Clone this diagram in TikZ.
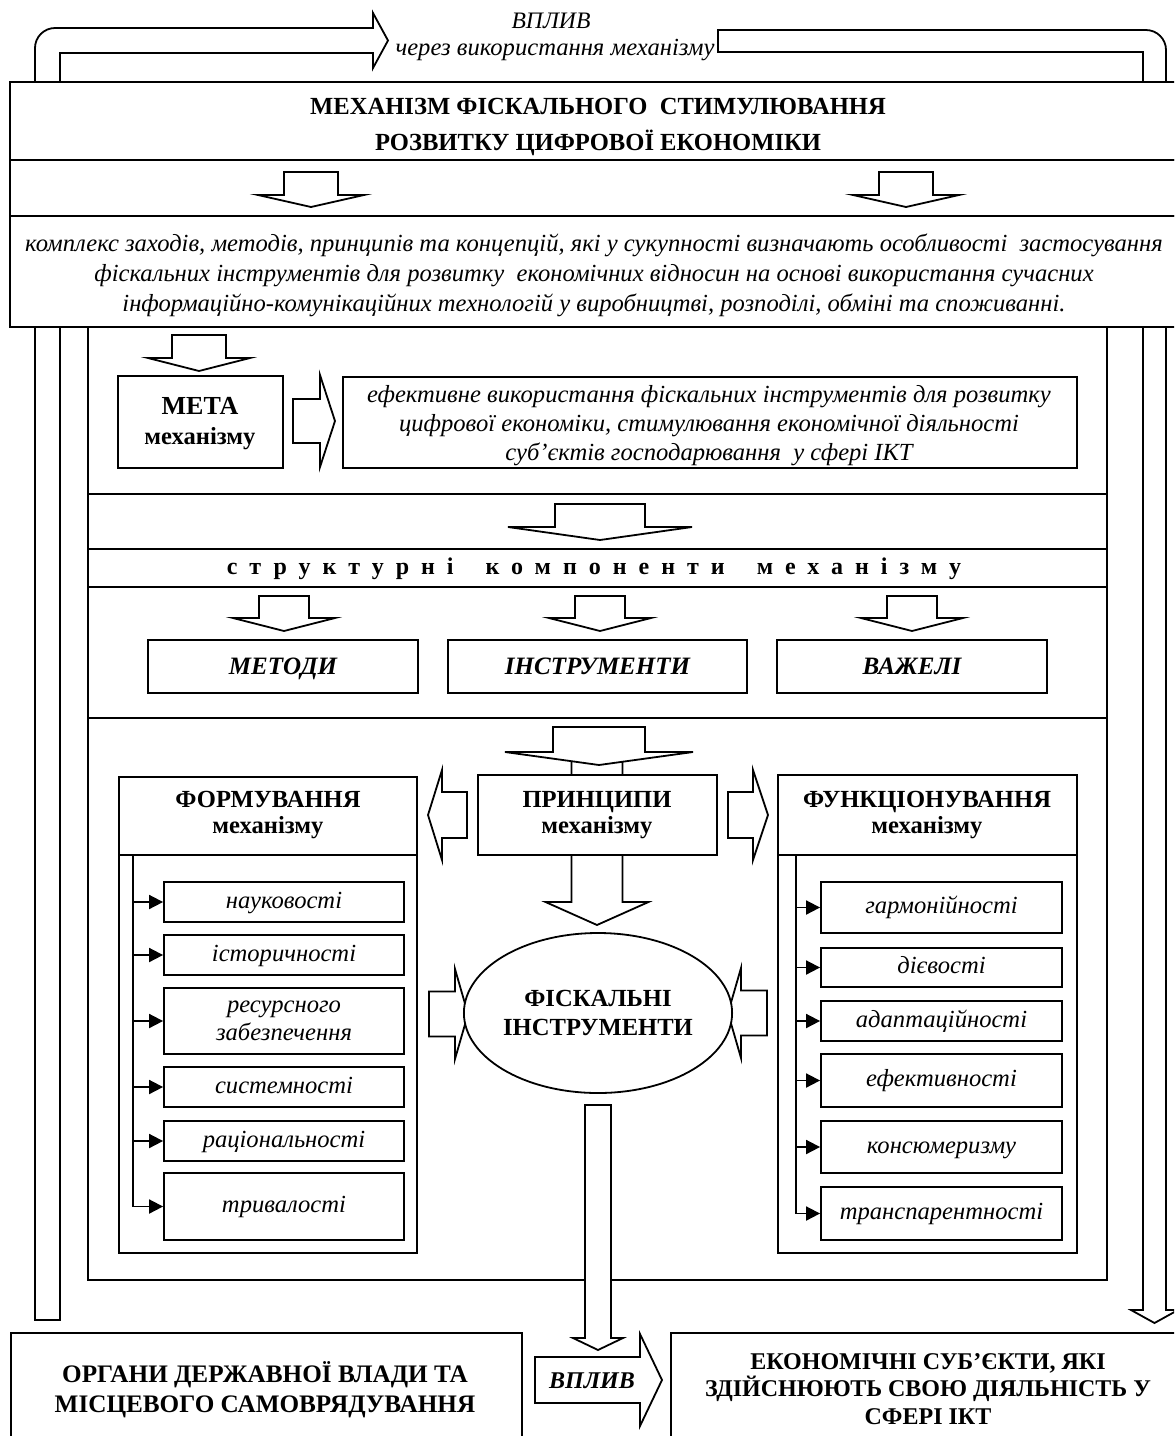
\documentclass[tikz,border=0pt]{standalone}
\usepackage{fontspec}
\setmainfont{Liberation Serif}
\usetikzlibrary{arrows.meta,shapes.geometric}
\newcommand\fs[2]{\fontsize{#1}{#2}\selectfont}
\tikzset{
  box/.style={draw, fill=white, line width=0.9pt, inner sep=0pt, align=center},
  txt/.style={align=center, inner sep=0pt},
  blockarrow/.style={draw, fill=white, line width=0.9pt, line join=miter},
  ptr/.style={-{Triangle[length=7pt,width=7pt]}, line width=0.9pt},
  item/.style={font=\itshape\fs{12.3}{14.5}, text height=8.5pt, text depth=2.5pt},
  capbox/.style={font=\bfseries\itshape\fs{12.5}{15}, text height=8.5pt, text depth=0.5pt},
}
% down block arrow: cx, shaft half, head half, top, base, tip
\newcommand\darr[6]{\draw[blockarrow] ({#1-#2},#4) -- ({#1+#2},#4) -- ({#1+#2},#5) -- ({#1+#3},#5) -- (#1,#6) -- ({#1-#3},#5) -- ({#1-#2},#5) -- cycle;}
% horizontal block arrow: cy, shaft half, head half, tail x, base x, tip x
\newcommand\harr[6]{\draw[blockarrow] (#4,{#1-#2}) -- (#5,{#1-#2}) -- (#5,{#1-#3}) -- (#6,#1) -- (#5,{#1+#3}) -- (#5,{#1+#2}) -- (#4,{#1+#2}) -- cycle;}
% named rectangle: [style], name, x1, y1, x2, y2, text
\newcommand\rbox[7][]{\node[box, minimum width={(#5-#3)*0.5pt}, minimum height={(#6-#4)*0.5pt}, #1] (#2) at ({(#3+#5)/2},{(#4+#6)/2}) {#7};}
\begin{document}
\begin{tikzpicture}[x=0.5pt,y=-0.5pt, line width=0.9pt]
\useasboundingbox (0,0) rectangle (1174,1436);
\clip (0,0) rectangle (1174,1436);
\fill[white] (0,0) rectangle (1174,1436);

% ---- feedback block arrows ----
\draw[blockarrow] (35,1320) -- (35,48) .. controls (35,37) and (44,28) .. (55,28) -- (373,28) -- (373,13) -- (388,40.5) -- (373,68) -- (373,53) -- (60,53) -- (60,1320) -- cycle;
\draw[blockarrow] (718,30) -- (1146,30) .. controls (1157,30) and (1166,39) .. (1166,50) -- (1166,1310) -- (1178,1310) -- (1154.5,1323) -- (1131,1310) -- (1143,1310) -- (1143,52) -- (718,52) -- cycle;
\node[txt, font=\itshape\fs{11.8}{13}] (vplyvtop) at (551,21) {ВПЛИВ};
\node[txt, font=\itshape\fs{12.3}{14}] (cherez) at (555,50) {через використання механізму};

% ---- title and definition ----
\rbox{title}{10}{82}{1190}{160}{}
\node[txt, font=\bfseries\fs{12.3}{18}] (titletxt) at (598,127) {МЕХАНІЗМ ФІСКАЛЬНОГО~ СТИМУЛЮВАННЯ\\РОЗВИТКУ ЦИФРОВОЇ ЕКОНОМІКИ};
\rbox{strip}{10}{160}{1190}{216}{}
\darr{311}{27}{53}{172}{195}{207}
\darr{906}{27}{53}{172}{195}{207}
\rbox{def}{10}{216}{1190}{327}{}
\node[txt, font=\itshape\fs{12.3}{15}] (deftxt) at (594,275) {комплекс заходів, методів, принципів та концепцій, які у сукупності визначають особливості~ застосування\\фіскальних інструментів для розвитку~ економічних відносин на основі використання сучасних\\інформаційно-комунікаційних технологій у виробництві, розподілі, обміні та споживанні.};

% ---- inner frame ----
\node[draw, line width=0.9pt, minimum width=509.5pt, minimum height=476.5pt, inner sep=0pt] (frame) at (597.5,803.5) {};
\draw (88,494) -- (1107,494);
\draw (88,549) -- (1107,549);
\draw (88,587) -- (1107,587);
\draw (88,718) -- (1107,718);

% ---- goal ----
\darr{199}{27}{51}{335}{358}{371}
\rbox{meta}{118}{376}{283}{468}{}
\node[txt, font=\bfseries\fs{12.3}{15}] (metatxt) at (200,424) {{\fs{13}{15}МЕТА}\\механізму};
\harr{421}{22}{46}{293}{320}{335}
\rbox{goal}{343}{377}{1077}{468}{}
\node[txt, font=\itshape\fs{12.3}{14.5}] (goaltxt) at (709,426) {ефективне використання фіскальних інструментів для розвитку\\цифрової економіки, стимулювання економічної діяльності\\суб’єктів господарювання~ у сфері ІКТ};

% ---- structural components ----
\darr{600}{45}{92}{504}{527}{540}
\node[txt, font=\bfseries\fs{12}{14}\addfontfeature{LetterSpace=50}] (struct) at (594,569) {структурні\hspace{16pt}компоненти\hspace{16pt}механізму};
\darr{284}{25}{51}{596}{618}{631}
\darr{600}{25}{51}{596}{618}{631}
\darr{912}{25}{51}{596}{618}{631}
\rbox[capbox]{metody}{148}{640}{418}{693}{МЕТОДИ}
\rbox[capbox]{instr}{448}{640}{747}{693}{ІНСТРУМЕНТИ}
\rbox[capbox]{vazheli}{777}{640}{1047}{693}{ВАЖЕЛІ}

% ---- principles ----
\darr{597}{25.5}{51.5}{740}{902}{925}
\darr{599}{46}{94}{727}{752}{765}
\rbox{princ}{478}{775}{717}{855}{}
\node[txt, font=\bfseries\fs{12.3}{12.8}] (princtxt) at (597,815) {ПРИНЦИПИ\\механізму};
\harr{815}{23}{45}{467}{442}{428}
\harr{815}{23}{45}{728}{753}{768}

% ---- formation ----
\rbox{form}{119}{777}{417}{1253}{}
\draw (119,855) -- (417,855);
\node[txt, font=\bfseries\fs{12.3}{12.8}] (formtxt) at (268,815) {ФОРМУВАННЯ\\механізму};
\coordinate (fl) at (133,855);
\rbox[item]{f1}{164}{882}{404}{922}{науковості}
\rbox[item]{f2}{164}{935}{404}{975}{історичності}
\rbox[font=\itshape\fs{12.3}{14}]{f3}{164}{988}{404}{1054}{ресурсного\\забезпечення}
\rbox[item]{f4}{164}{1067}{404}{1107}{системності}
\rbox[item]{f5}{164}{1121}{404}{1161}{раціональності}
\rbox[item]{f6}{164}{1173}{404}{1240}{тривалості}
\draw (fl) -- (fl |- f6.west);
\foreach \n in {f1,f2,f3,f4,f5,f6} \draw[ptr] (fl |- \n.west) -- (\n.west);

% ---- functioning ----
\rbox{func}{778}{775}{1077}{1253}{}
\draw (778,855) -- (1077,855);
\node[txt, font=\bfseries\fs{12.3}{12.8}] (functxt) at (927,815) {ФУНКЦІОНУВАННЯ\\механізму};
\coordinate (gl) at (796,855);
\rbox[item]{g1}{821}{882}{1062}{933}{гармонійності}
\rbox[item]{g2}{821}{948}{1062}{987}{дієвості}
\rbox[item]{g3}{821}{1001}{1062}{1041}{адаптаційності}
\rbox[item]{g4}{821}{1054}{1062}{1107}{ефективності}
\rbox[item]{g5}{821}{1121}{1062}{1173}{консюмеризму}
\rbox[item]{g6}{821}{1187}{1062}{1240}{транспарентності}
\draw (gl) -- (gl |- g6.west);
\foreach \n in {g1,g2,g3,g4,g5,g6} \draw[ptr] (gl |- \n.west) -- (\n.west);

% ---- fiscal instruments ----
\harr{1014}{22.5}{45}{429}{455}{468}
\harr{1013}{22.5}{45}{767}{741}{728}
\node[draw, ellipse, fill=white, line width=0.9pt, minimum width=121pt, minimum height=80pt, inner sep=0pt, align=center, font=\bfseries\fs{12.3}{14.5}] (fisk) at (598,1013) {ФІСКАЛЬНІ\\ІНСТРУМЕНТИ};
\darr{598}{13}{25}{1105}{1338}{1350}

% ---- bottom ----
\rbox{organy}{11}{1333}{522}{1450}{}
\node[txt, font=\bfseries\fs{12.6}{15}] (organytxt) at (265,1390) {ОРГАНИ ДЕРЖАВНОЇ ВЛАДИ ТА\\МІСЦЕВОГО САМОВРЯДУВАННЯ};
\rbox{subj}{671}{1333}{1190}{1450}{}
\node[txt, font=\bfseries\fs{12}{13.75}] (subjtxt) at (928,1389) {ЕКОНОМІЧНІ СУБ’ЄКТИ, ЯКІ\\ЗДІЙСНЮЮТЬ СВОЮ ДІЯЛЬНІСТЬ У\\СФЕРІ ІКТ};
\harr{1380}{23}{46}{535}{640}{662}
\node[txt, font=\bfseries\itshape\fs{12}{13}] (vplyvbot) at (592,1381) {ВПЛИВ};
\end{tikzpicture}
\end{document}
